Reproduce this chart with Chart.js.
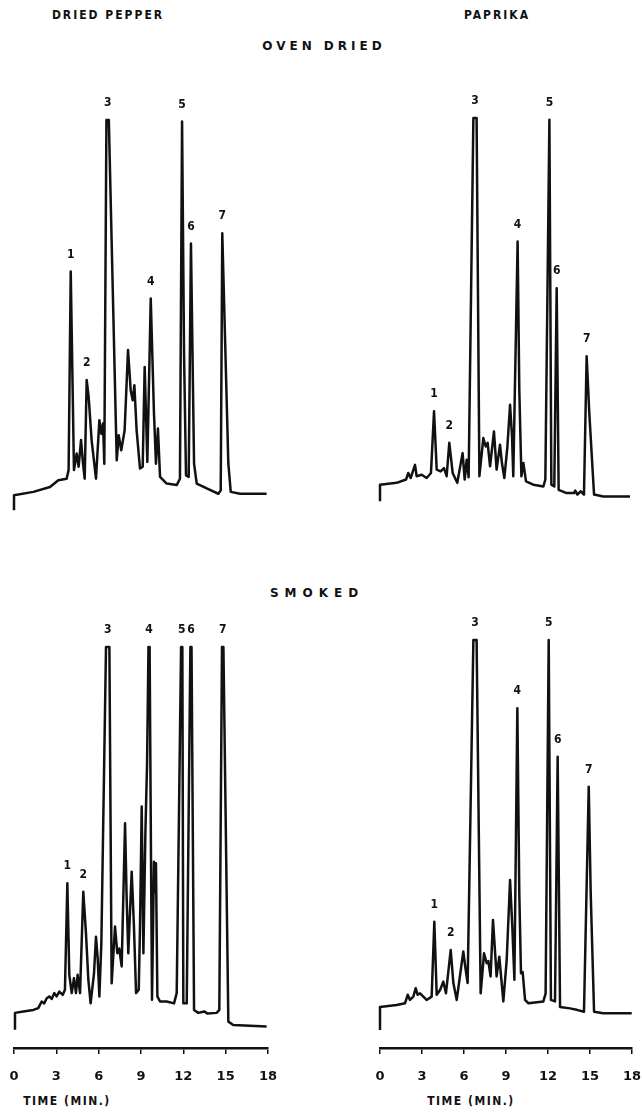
<!DOCTYPE html>
<html>
<head>
<meta charset="utf-8">
<script src="https://cdn.jsdelivr.net/npm/chart.js@4/dist/chart.umd.min.js"></script>
<style>
  body { margin: 0; background: #fff; width: 642px; height: 1113px; position: relative; overflow: hidden; }
  .txt { position: absolute; color: #111; font-weight: bold; white-space: nowrap; transform: translateX(-50%); line-height: 12px; }
  .head { font-family: "DejaVu Sans Condensed", "DejaVu Sans", sans-serif; font-size: 12px; letter-spacing: 2px; }
  .group { font-family: "DejaVu Sans", sans-serif; font-size: 12px; }
  canvas { position: absolute; }
</style>
</head>
<body>
<div class="txt head" style="left:108px; top:9px;">DRIED PEPPER</div>
<div class="txt head" style="left:497px; top:9px;">PAPRIKA</div>
<div class="txt group" style="left:324px; top:40px; letter-spacing:4px;">OVEN DRIED</div>
<div class="txt group" style="left:317px; top:587px; letter-spacing:6px;">SMOKED</div>
<div class="txt head" style="left:67px; top:1095px; letter-spacing:1.5px;">TIME (MIN.)</div>
<div class="txt head" style="left:471px; top:1095px; letter-spacing:1.5px;">TIME (MIN.)</div>

<canvas id="ovenPepper"></canvas>
<canvas id="ovenPaprika"></canvas>
<canvas id="smokedPepper"></canvas>
<canvas id="smokedPaprika"></canvas>

<script>
// retention time (min) and detector response (% of full scale)
const ovenPepperTime = [0, 0, 1.37, 2.55, 3.14, 3.73, 3.87, 4.02, 4.25, 4.44, 4.58, 4.75, 4.89, 5.01, 5.15, 5.29, 5.5, 5.81, 6.05, 6.19,
  6.31, 6.4, 6.55, 6.72, 7.28, 7.42, 7.6, 7.84, 8.08, 8.27, 8.41, 8.53, 8.69, 8.93, 9.12, 9.26, 9.45, 9.69, 9.92, 10.06,
  10.2, 10.35, 10.82, 11.53, 11.76, 11.91, 12.05, 12.19, 12.38, 12.54, 12.76, 12.95, 13.66, 14.48, 14.65, 14.76, 15.19, 15.36, 16.02, 17.9];
const ovenPepperSignal = [-4, 0, 0.9, 2.2, 4, 4.4, 6.7, 59.6, 6.7, 11.1, 7.6, 14.7, 8.4, 4.4, 30.7, 26.2, 14.7, 4.4, 20, 16.4,
  19.1, 8.4, 100, 100, 9.3, 16, 12, 17.3, 38.7, 28, 25.3, 29.3, 17.3, 7.1, 7.6, 34.2, 8.9, 52.4, 21.8, 8.4,
  17.8, 4.9, 3.1, 2.7, 4.4, 99.6, 37.8, 5.3, 4.9, 67.1, 8.4, 3.1, 1.8, 0.4, 1.3, 69.8, 8.4, 0.9, 0.4, 0.4];

const ovenPaprikaTime = [0, 0, 1.19, 1.86, 2.02, 2.19, 2.5, 2.62, 2.98, 3.33, 3.64, 3.86, 4.05, 4.33, 4.57, 4.76, 4.95, 5.19, 5.52, 5.9,
  6.05, 6.19, 6.33, 6.67, 6.9, 7.1, 7.38, 7.55, 7.69, 7.86, 8.14, 8.33, 8.57, 8.71, 8.88, 9.1, 9.29, 9.43, 9.52, 9.83,
  9.95, 10.1, 10.24, 10.43, 10.95, 11.67, 11.81, 12.1, 12.24, 12.45, 12.62, 12.76, 13.33, 13.86, 13.95, 14.1, 14.33, 14.57, 14.76, 14.95,
  15.29, 15.95, 17.86];
const ovenPaprikaSignal = [-4.5, 0, 0.5, 1.4, 3.2, 1.8, 5.4, 2.3, 2.7, 1.8, 3.2, 20, 4.1, 3.6, 4.5, 2.3, 11.4, 3.2, 0.5, 8.6,
  1.4, 6.8, 2, 100, 100, 2.3, 12.7, 10.4, 11.4, 5, 14.5, 4.1, 10.9, 5.9, 1.8, 10.4, 21.8, 13.2, 2.3, 66.3,
  25.9, 2.3, 5.9, 0.9, 0, -0.5, 1.4, 99.5, 0, -0.5, 53.6, -1.4, -2.3, -2.3, -1.6, -2.7, -1.8, -2.7, 35, 19.5,
  -2.7, -3.2, -3.2];

const smokedPepperTime = [0.07, 0.07, 0.66, 1.37, 1.72, 1.96, 2.14, 2.32, 2.5, 2.67, 2.86, 3.02, 3.21, 3.45, 3.61, 3.78, 3.92, 4.09, 4.25, 4.39,
  4.51, 4.68, 4.91, 5.1, 5.27, 5.43, 5.67, 5.81, 5.93, 6.05, 6.19, 6.52, 6.76, 6.92, 7.16, 7.32, 7.46, 7.63, 7.87, 7.98,
  8.1, 8.34, 8.5, 8.65, 8.84, 8.93, 9.05, 9.17, 9.31, 9.43, 9.53, 9.61, 9.71, 9.78, 9.92, 9.99, 10.06, 10.16, 10.35, 10.82,
  11.34, 11.53, 11.84, 11.93, 12.0, 12.24, 12.5, 12.58, 12.76, 13.06, 13.48, 13.72, 14.36, 14.55, 14.74, 14.84, 15.19, 15.54, 17.9];
const smokedPepperSignal = [-4.6, 0, 0.4, 0.8, 1.3, 3.1, 2.6, 4, 4.5, 3.8, 5.4, 4.5, 5.8, 4.9, 6.3, 35.4, 10.4, 5.4, 9.5, 5.4,
  10.4, 5.4, 33.1, 21.8, 9, 2.6, 10.8, 20.8, 14.9, 4.5, 19, 100, 100, 8.1, 23.6, 16.3, 17.6, 12.7, 51.8, 31.8,
  16.3, 38.6, 23.6, 5.4, 6.3, 23.6, 56.4, 16.3, 49.1, 68.2, 100, 100, 41.8, 3.6, 41.3, 33, 40.9, 4.5, 3.1, 3.1,
  2.6, 5.4, 100, 100, 2.6, 2.6, 100, 100, 0.8, 0, 0.4, -0.2, 0, 0.8, 100, 100, -2.4, -3.3, -3.7];

const smokedPaprikaTime = [0, 0, 1.19, 1.79, 1.98, 2.14, 2.38, 2.55, 2.69, 2.86, 3.33, 3.69, 3.88, 4.05, 4.29, 4.52, 4.71, 5.05, 5.24, 5.48,
  5.95, 6.12, 6.26, 6.67, 6.9, 7.19, 7.43, 7.62, 7.74, 7.9, 8.07, 8.33, 8.52, 8.81, 9.05, 9.29, 9.45, 9.6, 9.81, 9.95,
  10.07, 10.19, 10.36, 10.6, 11.67, 11.83, 12.05, 12.21, 12.5, 12.69, 12.86, 13.57, 14.05, 14.57, 14.91, 15.05, 15.29, 15.95, 17.98];
const smokedPaprikaSignal = [-6.3, 0, 0.5, 1, 3.3, 1.9, 2.8, 5.1, 3.3, 3.7, 1.9, 2.8, 23.2, 3.3, 4.6, 6.9, 3.7, 15.5, 6.5, 1.9,
  15.1, 10.1, 6.5, 100, 100, 3.7, 14.6, 11.9, 12.5, 8.3, 23.7, 8.3, 13.7, 1.5, 12.8, 34.6, 21.9, 7.4, 81.4, 31,
  9.2, 9.5, 1.9, 1, 1.5, 3.7, 100, 1.9, 1.5, 68.2, 0, -0.4, -0.8, -1.3, 60, 31, -1.3, -1.7, -1.7];

// numbered peaks
const peakNames = ["1", "2", "3", "4", "5", "6", "7"];
const ovenPepperPeakTime = [4.02, 5.15, 6.64, 9.69, 11.91, 12.54, 14.76];
const ovenPepperPeakTop = [59.6, 30.7, 100, 52.4, 99.6, 67.1, 69.8];
const ovenPaprikaPeakTime = [3.86, 4.95, 6.78, 9.83, 12.1, 12.62, 14.76];
const ovenPaprikaPeakTop = [20, 11.4, 100, 66.3, 99.5, 53.6, 35];
const smokedPepperPeakTime = [3.78, 4.91, 6.64, 9.57, 11.88, 12.54, 14.79];
const smokedPepperPeakTop = [35.4, 33.1, 100, 100, 100, 100, 100];
const smokedPaprikaPeakTime = [3.88, 5.05, 6.78, 9.81, 12.05, 12.69, 14.91];
const smokedPaprikaPeakTop = [23.2, 15.5, 100, 81.4, 100, 68.2, 60];

const timeTicks = [0, 3, 6, 9, 12, 15, 18];

const peakLabelPlugin = {
  id: "peakLabels",
  afterDatasetsDraw(chart, args, opts) {
    const ctx = chart.ctx;
    ctx.save();
    ctx.fillStyle = "#111";
    ctx.font = 'bold 12px "DejaVu Sans Condensed", "DejaVu Sans", sans-serif';
    ctx.textAlign = "center";
    ctx.textBaseline = "middle";
    opts.times.forEach((t, i) => {
      const x = chart.scales.x.getPixelForValue(t);
      const y = chart.scales.y.getPixelForValue(opts.tops[i]) - 17;
      ctx.fillText(peakNames[i], x, y);
    });
    ctx.restore();
  },
};

function makeChart(id, box, yMin, showAxis, times, signal, peakTime, peakTop) {
  const canvas = document.getElementById(id);
  const padL = 22, padT = 30, padR = 28;
  const axisH = 60, padB = showAxis ? 10 : 16;
  const w = box.right - box.left + padL + padR;
  const h = box.bottom - box.top + padT + padB + (showAxis ? axisH : 0);
  canvas.width = Math.round(w);
  canvas.height = Math.round(h);
  canvas.style.left = box.left - padL + "px";
  canvas.style.top = box.top - padT + "px";

  const points = times.map((t, i) => ({ x: t, y: signal[i] }));

  const xScale = {
    type: "linear",
    min: 0,
    max: 18,
    display: showAxis,
    border: { display: true, width: 2.5, color: "#111" },
    grid: { drawOnChartArea: false, drawTicks: true, tickLength: 6, color: "#111", lineWidth: 1.5 },
    ticks: {
      color: "#111",
      padding: 15,
      maxRotation: 0,
      font: { family: "DejaVu Sans", weight: "bold", size: 13 },
    },
  };
  if (showAxis) {
    xScale.afterBuildTicks = (scale) => { scale.ticks = timeTicks.map((v) => ({ value: v })); };
    xScale.afterFit = (scale) => { scale.height = axisH; };
  }

  return new Chart(canvas, {
    type: "line",
    data: {
      datasets: [{
        data: points,
        borderColor: "#111",
        borderWidth: 2.5,
        borderJoinStyle: "round",
        pointRadius: 0,
        tension: 0,
        clip: false,
      }],
    },
    options: {
      responsive: false,
      animation: false,
      layout: { padding: { left: padL, top: padT, right: padR, bottom: padB } },
      plugins: {
        legend: { display: false },
        tooltip: { enabled: false },
        peakLabels: { times: peakTime, tops: peakTop },
      },
      scales: {
        x: xScale,
        y: { display: false, min: yMin, max: 100 },
      },
    },
    plugins: [peakLabelPlugin],
  });
}

makeChart("ovenPepper", { left: 14, right: 268, top: 120, bottom: 513.75 }, -5, false,
  ovenPepperTime, ovenPepperSignal, ovenPepperPeakTime, ovenPepperPeakTop);
makeChart("ovenPaprika", { left: 380, right: 632, top: 118, bottom: 503.35 }, -5, false,
  ovenPaprikaTime, ovenPaprikaSignal, ovenPaprikaPeakTime, ovenPaprikaPeakTop);
makeChart("smokedPepper", { left: 14, right: 268, top: 647, bottom: 1048 }, -9.6, true,
  smokedPepperTime, smokedPepperSignal, smokedPepperPeakTime, smokedPepperPeakTop);
makeChart("smokedPaprika", { left: 380, right: 632, top: 640, bottom: 1048 }, -11.2, true,
  smokedPaprikaTime, smokedPaprikaSignal, smokedPaprikaPeakTime, smokedPaprikaPeakTop);
</script>
</body>
</html>
